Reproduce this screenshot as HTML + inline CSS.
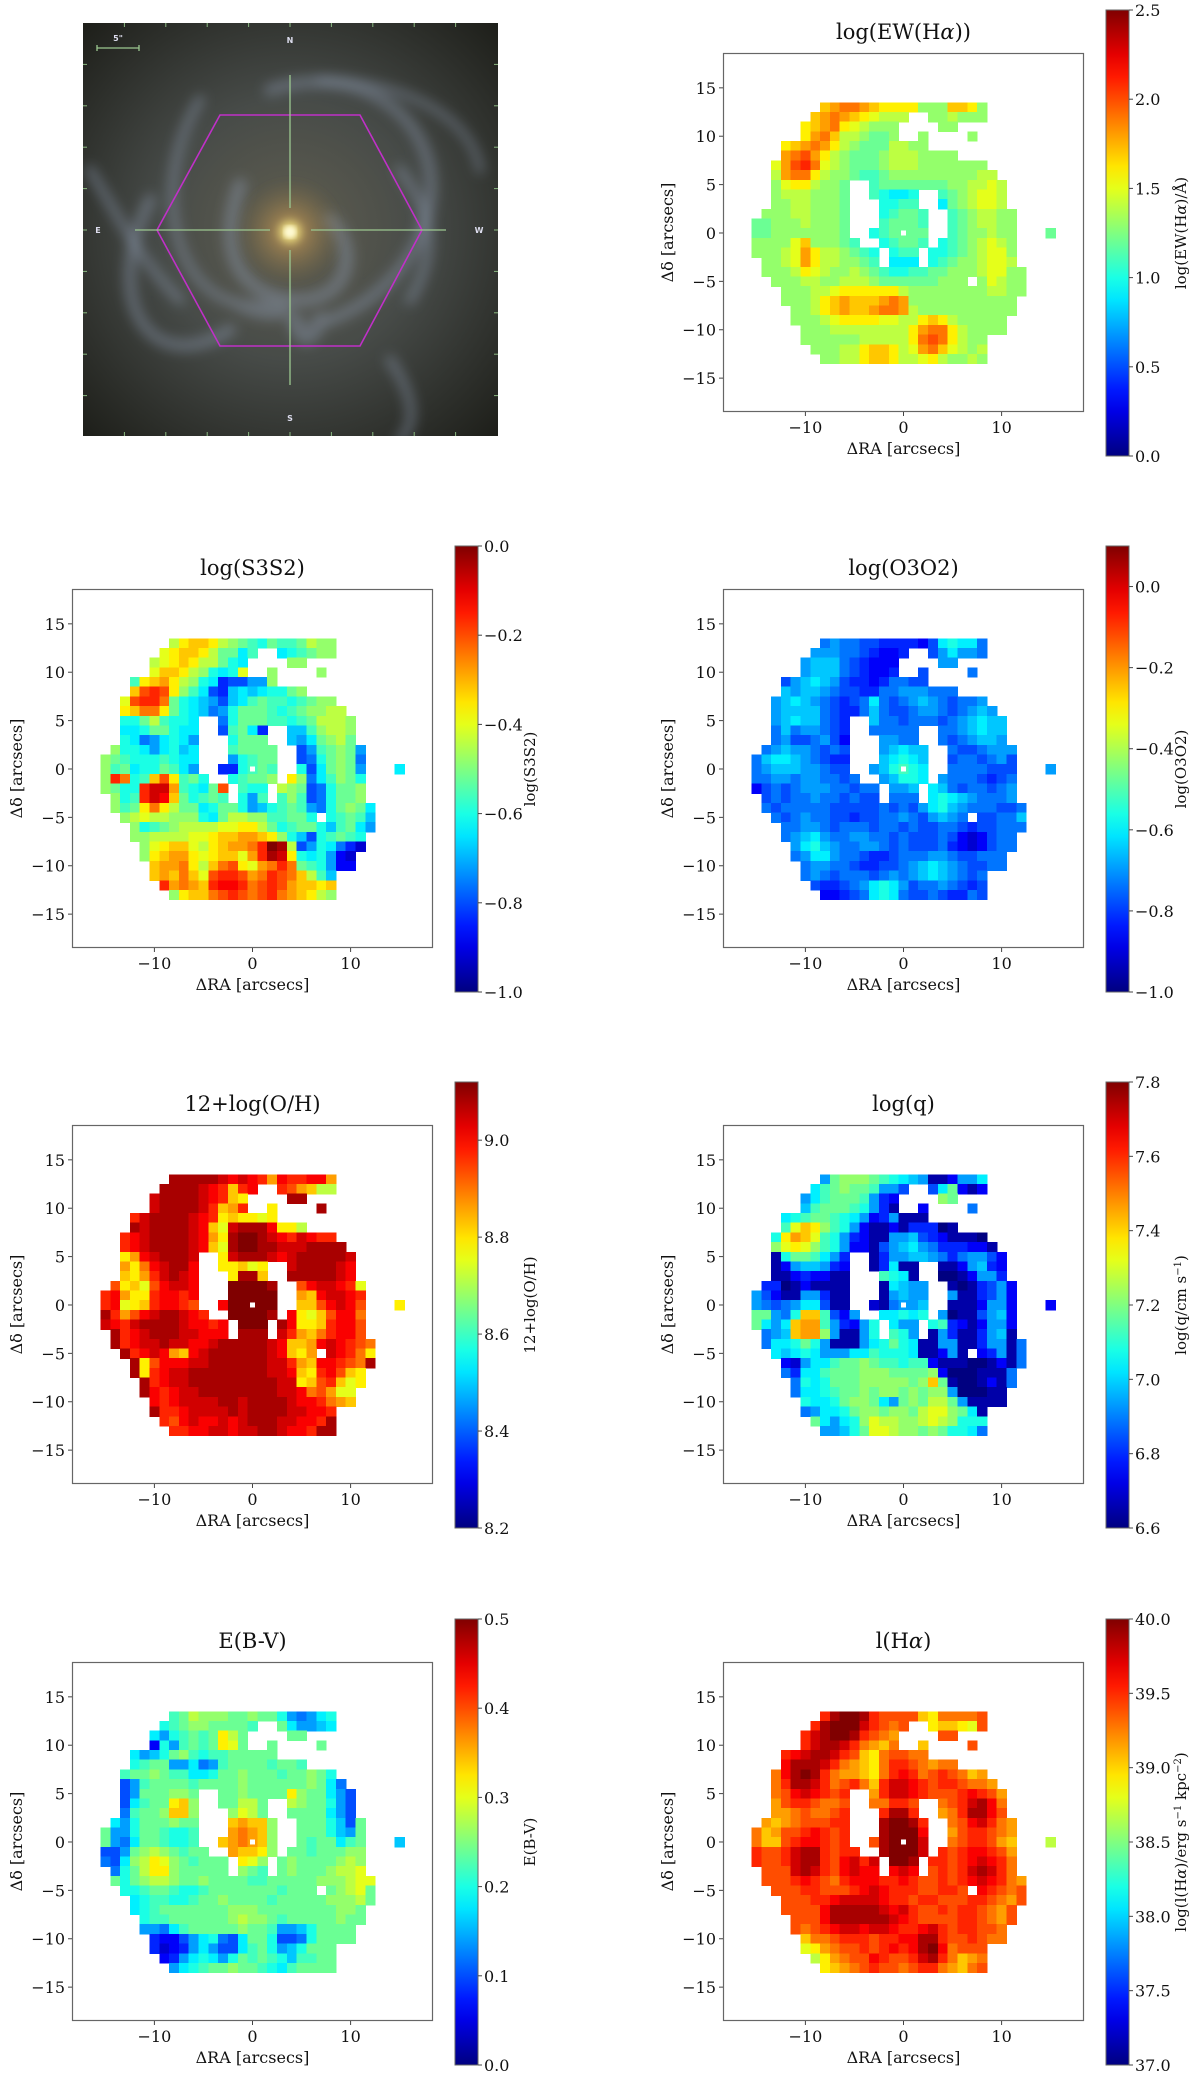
<!DOCTYPE html>
<html><head><meta charset="utf-8"><title>Galaxy maps</title>
<style>
html,body{margin:0;padding:0;background:#fff;}
svg{display:block;font-family:"DejaVu Serif","Liberation Serif",serif;}
</style></head>
<body>
<svg id="fig" width="1200" height="2078" viewBox="0 0 1200 2078" xmlns="http://www.w3.org/2000/svg">
<defs>
<clipPath id="imgclip"><rect x="83" y="23" width="415" height="413"/></clipPath>
<radialGradient id="bgGrad" cx="0.5" cy="0.5" r="0.7">
<stop offset="0" stop-color="#605e50"/><stop offset="0.45" stop-color="#474b48"/><stop offset="1" stop-color="#1e1f1a"/>
</radialGradient>
<radialGradient id="coreGrad" cx="0.5" cy="0.5" r="0.5">
<stop offset="0" stop-color="#fffbd0"/><stop offset="0.1" stop-color="#f0e080"/><stop offset="0.3" stop-color="#b89050" stop-opacity="0.6"/><stop offset="1" stop-color="#7a6a40" stop-opacity="0"/>
</radialGradient>
<filter id="blur6"><feGaussianBlur stdDeviation="6"/></filter>
<filter id="blur3"><feGaussianBlur stdDeviation="3"/></filter>
</defs>
<g id="galaxy" clip-path="url(#imgclip)">
<rect x="83" y="23" width="415" height="413" fill="url(#bgGrad)"/>
<g filter="url(#blur6)" fill="none" stroke="#8a96aa" stroke-opacity="0.45" stroke-linecap="round">
<path d="M240,185 C220,240 230,290 290,300 C350,305 360,250 330,220" stroke-width="14"/>
<path d="M200,100 C150,180 170,300 250,305 C320,305 270,330 230,300" stroke-width="10"/>
<path d="M150,200 C100,300 150,380 230,330" stroke-width="12"/>
<path d="M270,90 C360,60 440,120 430,200 C420,260 380,300 330,320" stroke-width="12"/>
<path d="M320,80 C390,80 470,110 480,170" stroke-width="8"/>
<path d="M295,320 C300,340 310,345 320,320" stroke-width="16"/>
<path d="M390,360 C410,390 420,420 400,440" stroke-width="10"/>
<path d="M400,170 C430,210 440,250 410,300" stroke-width="10"/>
<path d="M90,170 C120,220 140,260 180,300" stroke-width="10"/>
</g>
<circle cx="290" cy="232" r="55" fill="url(#coreGrad)" filter="url(#blur3)"/>
<circle cx="290" cy="232" r="6" fill="#fffbd8" filter="url(#blur3)"/>
<g id="hexagon">
<polygon points="220,115 360,115 422,230 360,346 220,346 157,230" fill="none" stroke="#c030c8" stroke-width="1.6"/>
</g>
<g stroke="#9cc890" stroke-width="1.3">
<line x1="290" y1="75" x2="290" y2="208"/><line x1="290" y1="250" x2="290" y2="385"/>
<line x1="135" y1="230" x2="270" y2="230"/><line x1="311" y1="230" x2="446" y2="230"/>
<line x1="97" y1="48" x2="139" y2="48"/><line x1="97" y1="45" x2="97" y2="51"/><line x1="139" y1="45" x2="139" y2="51"/>
</g>
<g id="imgticks" stroke="#8ab880" stroke-width="1"></g>
<g fill="#dde" font-family="DejaVu Sans, sans-serif" font-size="8" font-weight="bold" text-anchor="middle">
<text x="290" y="43">N</text>
<text x="290" y="421">S</text>
<text x="98" y="233">E</text>
<text x="479" y="233">W</text>
<text x="118" y="41">5"</text>
</g>
</g>
<g id="panels"></g>
</svg>
<script>
// ---------- shared footprint (rows y=13..-13, ranges in arcsec) ----------
const rowY = [13,12,11,10,9,8,7,6,5,4,3,2,1,0,-1,-2,-3,-4,-5,-6,-7,-8,-9,-10,-11,-12,-13];
const maskRanges = [
[[-8,8]],[[-9,0],[3,8]],[[-10,-1],[4,5]],[[-10,-1],[2,2],[7,7]],[[-12,2]],[[-12,5]],[[-13,8]],[[-13,9]],
[[-13,-6],[-3,10]],[[-13,-6],[-3,1],[4,10]],[[-13,-6],[-2,1],[4,10]],[[-14,-6],[-2,2],[5,11]],[[-15,-6],[-2,2],[5,11]],
[[-15,-6],[-3,2],[5,11],[15,15]],[[-15,-5],[-2,2],[4,11]],[[-15,-3],[-1,1],[3,11]],[[-14,-3],[-1,1],[3,11]],
[[-14,12]],[[-13,6],[8,12]],[[-12,12]],[[-12,11]],[[-11,11]],[[-11,10]],[[-10,10]],[[-10,8]],[[-9,8]],[[-8,8]]
];
// columns x=-15..15 ; letter a..z = fraction 0..1 of colour range
const ewLevels = [
"nnnnn"+"nnrst"+"tsrqq"+"qqnnn"+"rrqnn"+"nnnnn"+"n","nnnnn"+"nrsts"+"rqpoo"+"onnnn"+"onnnn"+"nnnnn"+"n",
"nnnnn"+"qrstq"+"ponnn"+"nnnnn"+"nnnnn"+"nnnnn"+"n","nnnnn"+"qstro"+"onmmn"+"nnnnn"+"nnnnn"+"nnnnn"+"n",
"nnnqr"+"stsqo"+"nmmmo"+"onnnn"+"nnnnn"+"nnnnn"+"n","nnnst"+"usqon"+"mmmno"+"oonnn"+"nnnnn"+"nnnnn"+"n",
"nnpsu"+"vtpon"+"mmmno"+"oonnn"+"nnnnn"+"nnnnn"+"n","nnost"+"tqonn"+"mllmn"+"nnnnn"+"nnnoo"+"nnnnn"+"n",
"nnnpq"+"qonnm"+"lllmm"+"mmmmm"+"nnoop"+"onnnn"+"n","nnnoo"+"onnnm"+"lllkj"+"jkkll"+"mnopp"+"onnnn"+"n",
"nnnno"+"onnnm"+"lllkk"+"lllkj"+"mnopp"+"onnnn"+"n","nnnno"+"onnnm"+"llkkl"+"mmllk"+"lmnoo"+"nnnnn"+"n",
"mmnnn"+"onnnm"+"lkklm"+"mmlkk"+"lmnoo"+"nnnnn"+"n","mmnnn"+"nnnnm"+"lkklm"+"mmmlk"+"lmnno"+"nnnnn"+"m",
"nnnnp"+"rnnnm"+"lkkkl"+"mmlkk"+"lmnop"+"onnnn"+"n","nnnop"+"sqoon"+"mlkjk"+"lllkk"+"lmnop"+"pnnnn"+"n",
"nnnop"+"sqoon"+"nmlkj"+"jjkkl"+"mnnop"+"ponnn"+"n","nnnno"+"qponn"+"onmlk"+"kllmm"+"nnnop"+"pnnnn"+"n",
"nnnnn"+"oonno"+"oonmm"+"mmmmn"+"nnnnp"+"onnnn"+"n","nnnnn"+"noopq"+"qqqqq"+"onnnn"+"nnnno"+"onnnn"+"n",
"nnnnn"+"noqrs"+"rrrst"+"snnnn"+"nnnnn"+"nnnnn"+"n","nnnnn"+"noqrs"+"rrstt"+"sonnn"+"nnnnn"+"nnnnn"+"n",
"nnnnn"+"nnopq"+"qqqpp"+"ooqrq"+"onnnn"+"nnnnn"+"n","nnnnn"+"nnnoo"+"ooooo"+"oqstt"+"qonnn"+"nnnnn"+"n",
"nnnnn"+"nnnnn"+"noooo"+"oqtut"+"qonnn"+"nnnnn"+"n","nnnnn"+"nnnno"+"oqrrq"+"opstr"+"ponon"+"nnnnn"+"n",
"nnnnn"+"nnnno"+"oqrrq"+"oopqo"+"nnono"+"nnnnn"+"n"];
const s3s2Levels = [
"nnnnn"+"nnoqr"+"rqonm"+"lkmll"+"monnn"+"nnnnn"+"n","nnnnn"+"npqrr"+"qommj"+"lmkjk"+"lmnnn"+"nnnnn"+"n",
"nnnnn"+"opqrq"+"oomkj"+"nnnnn"+"nnnnn"+"nnnnn"+"n","nnnnn"+"prrqo"+"nkjkp"+"nnnnn"+"nnnnn"+"nnnnn"+"n",
"nnnlq"+"rsqon"+"kjeff"+"hhnnn"+"nnnnn"+"nnnnn"+"n","nnnru"+"vuqnl"+"jfeij"+"ijkkm"+"nnnnn"+"nnnnn"+"n",
"nnpuv"+"vtmkj"+"ihfij"+"lmllk"+"lmnnm"+"nnnnn"+"n","nnqrt"+"tqmkj"+"ighkm"+"mmlkl"+"mnnoo"+"nmnnn"+"n",
"nnkkm"+"olkkj"+"ihgkm"+"mmllk"+"lmooo"+"nljnn"+"n","nnjjk"+"mmkjj"+"kiflm"+"jeeki"+"ilnoo"+"nkhnn"+"n",
"nnkjg"+"hjkjh"+"kqgkm"+"mmkki"+"hjmno"+"mjfnn"+"n","nnkkj"+"hjkij"+"jkilm"+"mmmkj"+"fhlmn"+"mhdnn"+"n",
"nmlkk"+"klkjj"+"hjhhk"+"lmmlk"+"fgkmn"+"mgcnn"+"n","nlmjk"+"kmljh"+"kkeek"+"lmlkk"+"kfjmn"+"mhcnn"+"j",
"nvtkl"+"ruqlm"+"kkkkl"+"mmnnq"+"ngjln"+"mknnn"+"n","nmkkv"+"xxslk"+"jmurl"+"kkmon"+"mfgkm"+"mnjnn"+"n",
"nnklv"+"xwrmk"+"lmlkk"+"hlmln"+"lfgkm"+"mnknn"+"n","nnlmq"+"tqomm"+"jkmmk"+"hiklm"+"lhgkm"+"nmjnn"+"n",
"nnnop"+"oonnn"+"kjmoo"+"nnllm"+"mkhkl"+"mlinn"+"n","nnnnk"+"lmnoo"+"ooppq"+"qomkl"+"mmkil"+"mjhnn"+"n",
"nnnnn"+"oooop"+"pqrrs"+"srqnk"+"ifklm"+"lkinn"+"n","nnnnn"+"pqrrp"+"oqrss"+"tvzyo"+"fhkjg"+"ecnnn"+"n",
"nnnnn"+"qrssq"+"pqrrp"+"svyxq"+"kjkhd"+"cnnnn"+"n","nnnnn"+"rsstq"+"ortuq"+"pstvt"+"mlkhd"+"dnnnn"+"n",
"nnnnn"+"rsrtr"+"puvvu"+"stvut"+"rolid"+"nnnnn"+"n","nnnnn"+"nvsts"+"rvwwv"+"tuvus"+"rrqrp"+"nnnnn"+"n",
"nnnnn"+"nnnqr"+"rtuvu"+"tuvts"+"rqonn"+"nnnnn"+"n"];
const o3o2Levels = [
"ggggg"+"ggghg"+"gffee"+"eedfj"+"kjjgg"+"ggggg"+"g","ggggg"+"ghhhg"+"gfedd"+"eegfh"+"jhhgg"+"ggggg"+"g",
"ggggg"+"hiiig"+"feddd"+"eggfh"+"hgggg"+"ggggg"+"g","ggggg"+"hiiig"+"fedde"+"gffgg"+"ggggg"+"ggggg"+"g",
"gggfh"+"ijihf"+"eedeg"+"gffgg"+"ggggg"+"ggggg"+"g","gggih"+"iihgf"+"feegg"+"hhhgg"+"ggggg"+"ggggg"+"g",
"gghij"+"ihgfe"+"fgjgf"+"ghihg"+"fgghf"+"ggggg"+"g","gghii"+"iigfe"+"egigf"+"fghhg"+"fghih"+"ggggg"+"g",
"gghij"+"iigfe"+"egigg"+"fgggf"+"ghiji"+"ihggg"+"g","gggig"+"hhgfe"+"eeggg"+"gggfg"+"ghiji"+"ijggg"+"g",
"ggghf"+"fghfd"+"dgghh"+"ggggg"+"fghii"+"hijgg"+"g","gghih"+"hgfgf"+"dgghi"+"jiihg"+"gffgh"+"hhigg"+"g",
"gijji"+"hgfee"+"fghij"+"kjihg"+"fggfg"+"hfggg"+"g","ghiii"+"hhgff"+"fghik"+"lkjih"+"ggggf"+"ffggg"+"h",
"gghhg"+"hhggf"+"ggghi"+"kkjih"+"gggfe"+"fgggg"+"g","dfgfg"+"hhhgg"+"fgghh"+"hiiji"+"gfggf"+"ghggg"+"g",
"gfgfg"+"ghggf"+"gffgg"+"gghjk"+"jihgg"+"ghggg"+"g","ggfgg"+"gggff"+"fffgf"+"gfhjk"+"ihggg"+"ffggg"+"g",
"gggfg"+"hggff"+"effgg"+"hgfhi"+"hggff"+"ggigg"+"g","ggggg"+"hhgfg"+"ggfgg"+"fgffg"+"gfeff"+"ggggg"+"g",
"ggggh"+"ijhgg"+"hhggf"+"gfffg"+"fdcdf"+"ggggg"+"g","ggggh"+"jkihg"+"ghhgf"+"gfffg"+"edcdf"+"ggggg"+"g",
"ggggg"+"hjjhg"+"gfeef"+"ggghh"+"gffgg"+"ggggg"+"g","ggggg"+"ghhgg"+"feeff"+"ghiji"+"hgffg"+"ggggg"+"g",
"ggggg"+"ghgfg"+"ggfgh"+"ghiji"+"hgfgg"+"ggggg"+"g","ggggg"+"gfeef"+"ghjkj"+"hfggh"+"gfefg"+"ggggg"+"g",
"ggggg"+"ggdde"+"fgjkj"+"gffgf"+"eegfg"+"ggggg"+"g"];
const ohLevels = [
"yyyyy"+"yyyyy"+"yyxwx"+"wvswv"+"vwwss"+"yyyyy"+"y","yyyyy"+"yyyyy"+"xwvrv"+"wvvvu"+"srooo"+"yyyyy"+"y",
"yyyyy"+"xyyyy"+"xwvrq"+"yyyyy"+"yyyyy"+"yyyyy"+"y","yyyyy"+"xyyyy"+"xvrsv"+"yyqyy"+"yyyyy"+"yyyyy"+"y",
"yyyvx"+"yyyyx"+"wvqrq"+"qpqyy"+"yyyyy"+"yyyyy"+"y","yyyyx"+"yyyyx"+"wrpxy"+"yywqq"+"ooyyy"+"yyyyy"+"y",
"yyvwx"+"yyyyx"+"wsqyz"+"zyxwv"+"xwvvy"+"yyyyy"+"y","yyvwx"+"yyyyx"+"wrpyz"+"zyyxx"+"xyyyy"+"wsyyy"+"y",
"yyqsw"+"xyyyx"+"wrqxy"+"yyxwx"+"yyyyy"+"xqyyy"+"y","yysqt"+"wxyyw"+"vrqqr"+"pqrwx"+"yyyyx"+"wpyyy"+"y",
"yyrqs"+"vxyxw"+"uqqqy"+"yrqwy"+"yyyyx"+"wpyyy"+"y","yuqrp"+"uwxxw"+"vsqzz"+"zzyxw"+"uwxxw"+"vpyyy"+"y",
"vwsqq"+"vwwvw"+"wsxzz"+"zzzyx"+"srwxx"+"wvpyy"+"y","vwpqr"+"vwwvu"+"sqwzz"+"zzzyv"+"rruwx"+"wupyy"+"q",
"yvsuw"+"xyyxw"+"vvwzz"+"zzyxw"+"qpruw"+"wtqyy"+"y","xwvxy"+"yyyxw"+"wvwyz"+"zzyyw"+"qqrvw"+"wuqyy"+"y",
"yyvwx"+"yyyxx"+"wwwyy"+"yyyxv"+"srtvw"+"wuqyy"+"y","yyvwx"+"xyxxw"+"wxyyy"+"yyxwr"+"rswxw"+"vutyy"+"y",
"yyyvw"+"xwsrw"+"xyyyy"+"yyxwr"+"qswxw"+"vtqyy"+"y","yyyyq"+"uwwwx"+"xyyyy"+"yyxxv"+"srwwv"+"utyyy"+"y",
"yyyyq"+"vwxxy"+"yyyyy"+"yyxxw"+"rqvwu"+"rqyyy"+"y","yyyyy"+"vwxxy"+"yyyyy"+"yyyxx"+"qruvr"+"pqyyy"+"y",
"yyyyy"+"wvwxx"+"yyyyy"+"yyyxx"+"wtusp"+"pyyyy"+"y","yyyyy"+"wvwxx"+"xxyyx"+"yyyyx"+"wwvts"+"ryyyy"+"y",
"yyyyy"+"yvvwx"+"xxxyx"+"yyyyx"+"xwwvy"+"yyyyy"+"y","yyyyy"+"yvuwx"+"wwxwx"+"yyyxx"+"wwvyy"+"yyyyy"+"y",
"yyyyy"+"yyvvw"+"wxxwx"+"xyyxw"+"wvyyy"+"yyyyy"+"y"];
const logqLevels = [
"ggggg"+"gghmn"+"nnmlk"+"jihbb"+"dhhjd"+"ggggg"+"g","ggggg"+"gjlmn"+"mmlhh"+"fdgfj"+"mdbdb"+"ggggg"+"g",
"ggggg"+"hjlmm"+"mlhed"+"gggjn"+"mbggg"+"ggggg"+"g","ggggg"+"ilmmm"+"lkheb"+"ggddg"+"ggggg"+"ggggg"+"g",
"gggjk"+"lmmlk"+"jhdeh"+"bbbgg"+"ggggg"+"ggggg"+"g","ggglp"+"rqnlk"+"hdbbd"+"beeea"+"bgggg"+"ggggg"+"g",
"ggkqs"+"rplkh"+"edbbh"+"hifed"+"bbbaa"+"ggggg"+"g","ggnpq"+"pnlkh"+"ddbfh"+"ijhge"+"eeddb"+"ggggg"+"g",
"ggbkm"+"mljhe"+"edbeh"+"hiihg"+"eghhf"+"dbggg"+"g","ggbdh"+"iihed"+"ddbej"+"bbaab"+"bdhie"+"dbggg"+"g",
"gdbbd"+"eddbb"+"jiblk"+"jbbaa"+"abdhh"+"ebggg"+"g","geeab"+"dbbbb"+"bkbbj"+"ihhgb"+"babef"+"hdggg"+"g",
"hfdbb"+"hhebb"+"bjbbh"+"ihhij"+"hbbef"+"hdggg"+"g","hgfgh"+"jjfbb"+"bbcbg"+"hhijj"+"bbbdh"+"hdggg"+"d",
"mmhgk"+"rrlfd"+"hjhjj"+"kjkkh"+"abbfh"+"idggg"+"g","mjhjr"+"sslhe"+"dhkmj"+"hhjkl"+"edbdh"+"hdggg"+"g",
"gghir"+"ssnhb"+"bhkml"+"khbbh"+"ebbeh"+"ibggg"+"g","ggjjk"+"mkhbb"+"bhjkm"+"kjbbh"+"hbbeh"+"hbggg"+"g",
"ggjij"+"kjhhh"+"jjlkk"+"kjbbd"+"hbbde"+"hbggg"+"g","gggdc"+"hjjlm"+"mnmll"+"klldb"+"bbaab"+"dbggg"+"g",
"gggge"+"jjlmm"+"mnnnm"+"mmmnd"+"aaabb"+"bgggg"+"g","ggggg"+"kjkmm"+"mnnnn"+"nmnrm"+"baabd"+"bgggg"+"g",
"ggggg"+"jjklm"+"mnmnn"+"mnmnn"+"haaab"+"bgggg"+"g","ggggg"+"kjjkm"+"nnmjh"+"mnmoo"+"mhbbb"+"bgggg"+"g",
"ggggg"+"ghjjk"+"mnnmn"+"nmopp"+"nmjbb"+"ggggg"+"g","ggggg"+"gmjhj"+"knpoo"+"nnopo"+"nkkkg"+"ggggg"+"g",
"ggggg"+"gghhi"+"kmppo"+"nnmnm"+"kkjgg"+"ggggg"+"g"];
const ebvLevels = [
"mmmmm"+"mmlmo"+"nnnmm"+"nmmkh"+"ghjkm"+"mmmmm"+"m","mmmmm"+"mklmn"+"nmmmm"+"lmmmj"+"hhijm"+"mmmmm"+"m",
"mmmmm"+"jhklm"+"lmqom"+"mmmmm"+"mmmmm"+"mmmmm"+"m","mmmmm"+"dkhlm"+"lmqpm"+"mmmmm"+"mmmmm"+"mmmmm"+"m",
"mmmjh"+"ikmnl"+"kllmm"+"mmmmm"+"mmmmm"+"mmmmm"+"m","mmmkl"+"mmhhj"+"ghlmm"+"mmlmm"+"lmmmm"+"mmmmm"+"m",
"mmlmm"+"nmllj"+"jkmmn"+"mmmlm"+"mnmkk"+"mmmmm"+"m","mmfhl"+"mmmml"+"mmmmn"+"mmmmm"+"mnmjg"+"fmmmm"+"m",
"mmfhm"+"mmnnm"+"llmmn"+"mmmmq"+"nmmjh"+"fmmmm"+"m","mmfjl"+"mmqrn"+"mlmmo"+"ommmo"+"nmmkh"+"fmmmm"+"m",
"mmglm"+"mnrrn"+"lmmnp"+"ommnm"+"mmmjh"+"fmmmm"+"m","mjhkm"+"mmnmm"+"lmnrs"+"rrnmm"+"mmmki"+"fmmmm"+"m",
"mhhkm"+"mlkkl"+"mmrst"+"srnmn"+"mmmki"+"hmmmm"+"m","mhgjm"+"mlkkl"+"mmrst"+"srnmm"+"mlmmj"+"lmmmm"+"i",
"ffhmn"+"onmlm"+"mmqsr"+"rqnmm"+"mlmmm"+"nnmmm"+"m","gfjno"+"qpnml"+"mmmpq"+"pnmmn"+"mmmmn"+"onmmm"+"m",
"mgkmo"+"qqnmm"+"mmmnn"+"mlmmn"+"mmmno"+"opomm"+"m","mmkmn"+"oonmm"+"nmmmm"+"llmmm"+"mmnnn"+"oppmm"+"m",
"mmkkl"+"mmlkk"+"lmmmm"+"mmmlm"+"mmmmn"+"opmmm"+"m","mmmjk"+"llkkl"+"mmnmm"+"mmlmm"+"mmmnn"+"nommm"+"m",
"mmmjk"+"lmmmm"+"mmmnn"+"nmmmm"+"mmmmn"+"nmmmm"+"m","mmmmk"+"llmmm"+"mmmno"+"nnmlm"+"mmmmn"+"mmmmm"+"m",
"mmmmh"+"hgjlm"+"mmmmn"+"mmlhh"+"ikmmm"+"mmmmm"+"m","mmmmm"+"eddfh"+"jkgfj"+"mmkff"+"gkmmm"+"mmmmm"+"m",
"mmmmm"+"ecdeh"+"jhffj"+"lmkhi"+"kmmmm"+"mmmmm"+"m","mmmmm"+"mdehj"+"kjhkm"+"lmlki"+"llmmm"+"mmmmm"+"m",
"mmmmm"+"mmhjk"+"lmmnm"+"mlkjl"+"mmmmm"+"mmmmm"+"m"];
const lhaLevels = [
"uuuuu"+"uuvyz"+"zyvuu"+"uurqt"+"tttuu"+"uuuuu"+"u","uuuuu"+"uvyzz"+"zxvut"+"uutqr"+"rqpuu"+"uuuuu"+"u",
"uuuuu"+"vxyzz"+"yvuts"+"uuuuu"+"uuuuu"+"uuuuu"+"u","uuuuu"+"vxyyx"+"vtsrt"+"uuruu"+"uuuuu"+"uuuuu"+"u",
"uuuvw"+"xyyxv"+"urqtu"+"uttuu"+"uuuuu"+"uuuuu"+"u","uuuwy"+"yyxvt"+"srqtv"+"vutst"+"tsuuu"+"uuuuu"+"u",
"uutwy"+"zyvts"+"srqtv"+"wvtuv"+"utrss"+"uuuuu"+"u","uutvy"+"yxvtu"+"vtrvx"+"xwvuv"+"vutts"+"ruuuu"+"u",
"uutuw"+"xwvuv"+"wvsvx"+"xwvuu"+"uvwvu"+"suuuu"+"u","uusuv"+"vuttu"+"vuttv"+"vuutt"+"uvxyw"+"tsuuu"+"u",
"uusst"+"uttuv"+"vvuvy"+"yvtss"+"tvyyw"+"usuuu"+"u","usrst"+"uuuvv"+"vutyz"+"zyvtt"+"tuwxv"+"tsuuu"+"u",
"trsuu"+"vwvuv"+"vutyz"+"zzwvt"+"suvvu"+"tsuuu"+"u","trruv"+"wwvuv"+"vtuyz"+"zzxvu"+"tuvvu"+"srsuu"+"o",
"vuuvx"+"yyvuv"+"vuvyz"+"zzxvv"+"uvwwv"+"usruu"+"u","vuuvx"+"yyvuw"+"xvxyz"+"zywvv"+"uvwxw"+"vtsuu"+"u",
"uuuux"+"yxvuw"+"xwwvw"+"xwvuv"+"uvxyx"+"vtsuu"+"u","uuuuv"+"wvutv"+"wwwvv"+"wvuuv"+"uvwxw"+"vtsuu"+"u",
"uuuuu"+"vvuuu"+"vwxwv"+"vvuuv"+"vuvwv"+"utuuu"+"u","uuuuu"+"uvvwx"+"xxxwv"+"vuvvu"+"uuvvu"+"tsuuu"+"u",
"uuuuu"+"uuwyy"+"yyyxw"+"xvuuv"+"uvvut"+"suuuu"+"u","uuuuu"+"uuwyy"+"yyyyx"+"wvuuu"+"uvvut"+"suuuu"+"u",
"uuuuu"+"tuvwx"+"xwxxw"+"vvwxv"+"uvvuu"+"tuuuu"+"u","uuuuu"+"rttuv"+"vvuvv"+"wwyyv"+"uuvut"+"tuuuu"+"u",
"uuuuu"+"pqstu"+"uvuvw"+"vwyzw"+"tuuut"+"uuuuu"+"u","uuuuu"+"uoqst"+"uuwvu"+"uvxyv"+"trstu"+"uuuuu"+"u",
"uuuuu"+"uuqrs"+"tuvuu"+"tuvvt"+"srtuu"+"uuuuu"+"u"];

const panelTitles = ["log(EW(H<tspan font-style='italic'>α</tspan>))","log(S3S2)","log(O3O2)","12+log(O/H)","log(q)","E(B-V)","l(H<tspan font-style='italic'>α</tspan>)"];
const cbarLabels = ["log(EW(H<tspan font-style='italic'>α</tspan>)/Å)","log(S3S2)","log(O3O2)","12+log(O/H)","log(q/cm s<tspan baseline-shift='super' font-size='10'>−1</tspan>)","E(B-V)","log(l(H<tspan font-style='italic'>α</tspan>)/erg s<tspan baseline-shift='super' font-size='10'>−1</tspan> kpc<tspan baseline-shift='super' font-size='10'>−2</tspan>)"];
const cbarMin = [0, -1.0, -1.0, 8.2, 6.6, 0.0, 37.0];
const cbarMax = [2.5, 0.0, 0.1, 9.12, 7.8, 0.5, 40.0];
const cbarTicks = [[0,0.5,1,1.5,2,2.5],[-1,-0.8,-0.6,-0.4,-0.2,0],[-1,-0.8,-0.6,-0.4,-0.2,0],[8.2,8.4,8.6,8.8,9.0],[6.6,6.8,7.0,7.2,7.4,7.6,7.8],[0,0.1,0.2,0.3,0.4,0.5],[37,37.5,38,38.5,39,39.5,40]];
const cbarTickLabels = [["0.0","0.5","1.0","1.5","2.0","2.5"],["−1.0","−0.8","−0.6","−0.4","−0.2","0.0"],["−1.0","−0.8","−0.6","−0.4","−0.2","0.0"],["8.2","8.4","8.6","8.8","9.0"],["6.6","6.8","7.0","7.2","7.4","7.6","7.8"],["0.0","0.1","0.2","0.3","0.4","0.5"],["37.0","37.5","38.0","38.5","39.0","39.5","40.0"]];
const mapNames = ["ew-halpha","s3s2","o3o2","metallicity","ionization-parameter","ebv","halpha-luminosity"];
const mapLevels = [ewLevels, s3s2Levels, o3o2Levels, ohLevels, logqLevels, ebvLevels, lhaLevels];
const axisTicksX = [-10,0,10];
const axisTicksY = [-15,-10,-5,0,5,10,15];

const NS = "http://www.w3.org/2000/svg";
function jet(f){
  f=Math.max(0,Math.min(1,f));
  const c=v=>Math.round(255*Math.max(0,Math.min(1,v)));
  return "rgb("+c(1.5-Math.abs(4*f-3))+","+c(1.5-Math.abs(4*f-2))+","+c(1.5-Math.abs(4*f-1))+")";
}
function mk(tag, attrs, parent){
  const e=document.createElementNS(NS,tag);
  for(const k in attrs) e.setAttribute(k,attrs[k]);
  parent.appendChild(e); return e;
}
const root=document.getElementById("panels");
const itk=document.getElementById("imgticks");
for(let i=1;i<10;i++){
  const p=83+i*41.4, q=23+i*41.4;
  mk("line",{x1:p,y1:23,x2:p,y2:27},itk); mk("line",{x1:p,y1:436,x2:p,y2:432},itk);
  mk("line",{x1:83,y1:q,x2:87,y2:q},itk); mk("line",{x1:498,y1:q,x2:494,y2:q},itk);
}
const defs=document.querySelector("defs");
const lg=mk("linearGradient",{id:"jetGrad",x1:"0",y1:"1",x2:"0",y2:"0"},defs);
for(let i=0;i<=20;i++){ mk("stop",{offset:i/20,"stop-color":jet(i/20)},lg); }

const slots=[[723,53],[72,589],[723,589],[72,1125],[723,1125],[72,1662],[723,1662]];
const W=361,H=359;
slots.forEach((s,pi)=>{
  const L=s[0], T=s[1];
  const g=mk("g",{},root);
  
  
  const xs=v=>L+(v+18.4)/36.8*W, ys=v=>T+(18.6-v)/37.1*H;
  const vmin=cbarMin[pi], vmax=cbarMax[pi];
  const cells=mk("g",{"shape-rendering":"crispEdges"},g);
  
  
  rowY.forEach((y,ri)=>{
    const row=mapLevels[pi][ri];
    maskRanges[ri].forEach(r=>{
      for(let x=r[0];x<=r[1];x++){
        const ch=row.charCodeAt(x+15)-97;
        const val=vmin+(ch/25)*(vmax-vmin);
        const f=(val-vmin)/(vmax-vmin);
        const x0=xs(x-0.5), x1=xs(x+0.5), y0=ys(y+0.5), y1=ys(y-0.5);
        const rc=mk("rect",{x:x0.toFixed(2),y:y0.toFixed(2),width:(x1-x0+0.6).toFixed(2),height:(y1-y0+0.6).toFixed(2),fill:jet(f)},cells);
        
        
      }
    });
  });
  const ctr=mk("rect",{x:xs(0)-2.5,y:ys(0)-2.5,width:5,height:5,fill:"#fff"},g);
  
  
  const fr=mk("rect",{x:L+0.5,y:T+0.5,width:W-1,height:H-1,fill:"none",stroke:"#666","stroke-width":1.2},g);
  
  
  axisTicksX.forEach(t=>{
    mk("line",{x1:xs(t),y1:T+H,x2:xs(t),y2:T+H+4,stroke:"#444"},g);
    const tx=mk("text",{x:xs(t),y:T+H+21,"font-size":16,"text-anchor":"middle",fill:"#111"},g);
    tx.textContent=(t<0?"−":"")+Math.abs(t);
    
    
  });
  axisTicksY.forEach(t=>{
    mk("line",{x1:L-4,y1:ys(t),x2:L,y2:ys(t),stroke:"#444"},g);
    const tx=mk("text",{x:L-7,y:ys(t)+6,"font-size":16,"text-anchor":"end",fill:"#111"},g);
    tx.textContent=(t<0?"−":"")+Math.abs(t);
    
    
  });
  const xl=mk("text",{x:L+W/2,y:T+H+42,"font-size":16,"text-anchor":"middle",fill:"#111"},g);
  xl.textContent="ΔRA [arcsecs]";
  
  
  const yl=mk("text",{x:0,y:0,"font-size":16,"text-anchor":"middle",fill:"#111",transform:"translate("+(L-50)+","+(T+H/2)+") rotate(-90)"},g);
  yl.textContent="Δδ [arcsecs]";
  
  
  const tt=mk("text",{x:L+W/2,y:T-14,"font-size":21,"text-anchor":"middle",fill:"#111"},g);
  tt.innerHTML=panelTitles[pi];
  
  
  const cx=L+383, cw=23, ct=T-43, cb=T+403;
  const cg=mk("g",{},g);
  
  
  mk("rect",{x:cx,y:ct,width:cw,height:cb-ct,fill:"url(#jetGrad)",stroke:"#666","stroke-width":1},cg);
  const cy=v=>cb-(v-vmin)/(vmax-vmin)*(cb-ct);
  cbarTicks[pi].forEach((t,ti)=>{
    mk("line",{x1:cx+cw,y1:cy(t),x2:cx+cw+4,y2:cy(t),stroke:"#444"},cg);
    const tx=mk("text",{x:cx+cw+6,y:cy(t)+6,"font-size":16,fill:"#111"},cg);
    tx.textContent=cbarTickLabels[pi][ti];
    
    
  });
  const cl=mk("text",{x:0,y:0,"font-size":15,"text-anchor":"middle",fill:"#111",transform:"translate("+(cx+cw+57)+","+((ct+cb)/2)+") rotate(-90)"},cg);
  cl.innerHTML=cbarLabels[pi];
  
  
});
</script>
</body></html>
